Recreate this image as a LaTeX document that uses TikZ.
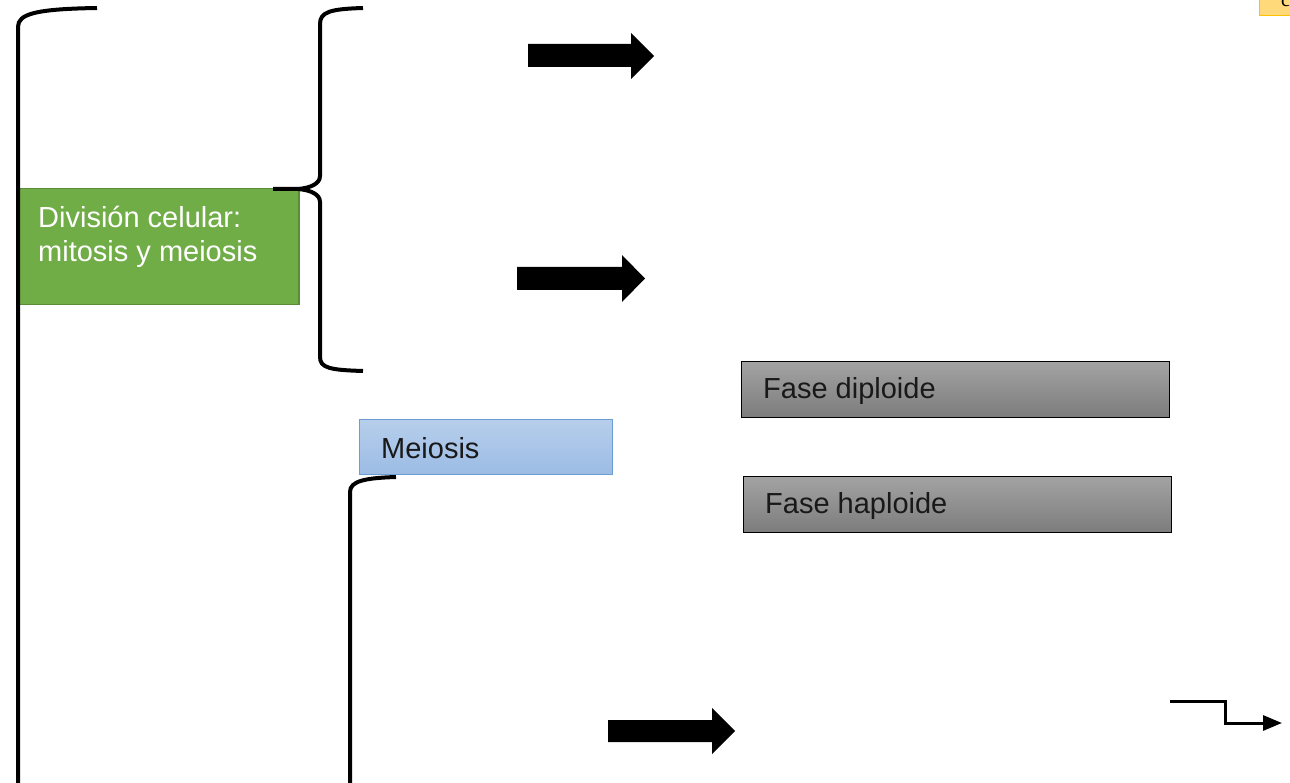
\documentclass[tikz,border=0pt]{standalone}
\usepackage{fontspec}
\setmainfont{Liberation Sans}
\newfontfamily\serifglyph{Liberation Serif}
\usetikzlibrary{arrows.meta}
\definecolor{greenfill}{HTML}{70AD47}
\definecolor{greenline}{HTML}{5A8C3A}
\definecolor{graytop}{HTML}{A3A3A3}
\definecolor{graybot}{HTML}{7C7C7C}
\definecolor{bluetop}{HTML}{B6CEEB}
\definecolor{bluebot}{HTML}{9CBCE5}
\definecolor{blueline}{HTML}{6C9CD4}
\definecolor{yellowfill}{HTML}{FFD97A}
\definecolor{yellowline}{HTML}{FFC000}
\tikzset{
  bracketline/.style={line width=4pt, line cap=butt},
  greenbox/.style={draw=greenline, line width=1.5pt, fill=greenfill, rectangle, inner sep=0pt, anchor=north west},
  graybox/.style={draw=black, line width=1.2pt, top color=graytop, bottom color=graybot, rectangle, inner sep=0pt, anchor=north west, minimum width=428pt, minimum height=56pt},
  bluebox/.style={draw=blueline, line width=1.2pt, top color=bluetop, bottom color=bluebot, rectangle, inner sep=0pt, anchor=north west},
  boxtext/.style={anchor=base west, inner sep=0pt, font=\fontsize{29}{34}\selectfont},
  blockarrow/.style={fill=black, draw=none},
  steparrow/.style={line width=3pt, -{Triangle[length=19pt,width=15pt]}}
}
\begin{document}
\begin{tikzpicture}[x=1pt,y=-1pt]
\useasboundingbox (0,0) rectangle (1290,783);
% yellow corner box
\begin{scope}
\clip (0,0) rectangle (1290,783);
\node[draw=yellowline, line width=1.2pt, fill=yellowfill, rectangle, inner sep=0pt, minimum width=40pt, minimum height=16pt, anchor=north west] (corner) at (1259,-1) {};
\node[anchor=base west, inner sep=0pt, font=\serifglyph\fontsize{20}{20}\selectfont] (cornertext) at (1281,7) {c};
\end{scope}
% green box
\node[greenbox, minimum width=280pt, minimum height=116pt] (division) at (18,188) {};
\node[boxtext, text=white] (divline1) at (38,228) {División celular:};
\node[boxtext, text=white] (divline2) at (38,262) {mitosis y meiosis};
% big left bracket
\draw[bracketline] (18,790) -- (18,27) .. controls (18,14) and (35,9) .. (97,8);
% middle brace
\draw[bracketline] (363,8) .. controls (330,9) and (320,12) .. (320,24) -- (320,176)
  .. controls (320,184) and (310,188) .. (298,189) -- (273,189);
\draw[bracketline] (298,189) .. controls (310,190) and (320,194) .. (320,202) -- (320,357)
  .. controls (320,368) and (330,370) .. (363,371);
% block arrows
\draw[blockarrow] (528,44) -- (631,44) -- (631,33) -- (654,56) -- (631,79) -- (631,67) -- (528,67) -- cycle;
\draw[blockarrow] (517,267) -- (622,267) -- (622,255) -- (645,278.5) -- (622,302) -- (622,290) -- (517,290) -- cycle;
\draw[blockarrow] (608,720) -- (712,720) -- (712,708) -- (735,731) -- (712,754) -- (712,742) -- (608,742) -- cycle;
% gray boxes
\node[graybox] (diploide) at (741,361) {};
\node[boxtext, text=black!90] (diploidetext) at (763,398) {Fase diploide};
\node[graybox] (haploide) at (743,476) {};
\node[boxtext, text=black!90] (haploidetext) at (765,513) {Fase haploide};
% meiosis box
\node[bluebox, minimum width=253pt, minimum height=55pt] (meiosis) at (359,419) {};
\node[boxtext, text=black!90] (meiosistext) at (381,458) {Meiosis};
% meiosis bracket
\draw[bracketline] (396,477) .. controls (365,478) and (350,481) .. (350,492) -- (350,790);
% step arrow
\coordinate (stepstart) at (1170,701);
\coordinate (stepcorner1) at (1225,701);
\coordinate (stepcorner2) at (1225,723);
\coordinate (stepend) at (1282,723);
\draw[steparrow] (stepstart) -- (stepcorner1) -- (stepcorner2) -- (stepend);
\end{tikzpicture}
\end{document}
